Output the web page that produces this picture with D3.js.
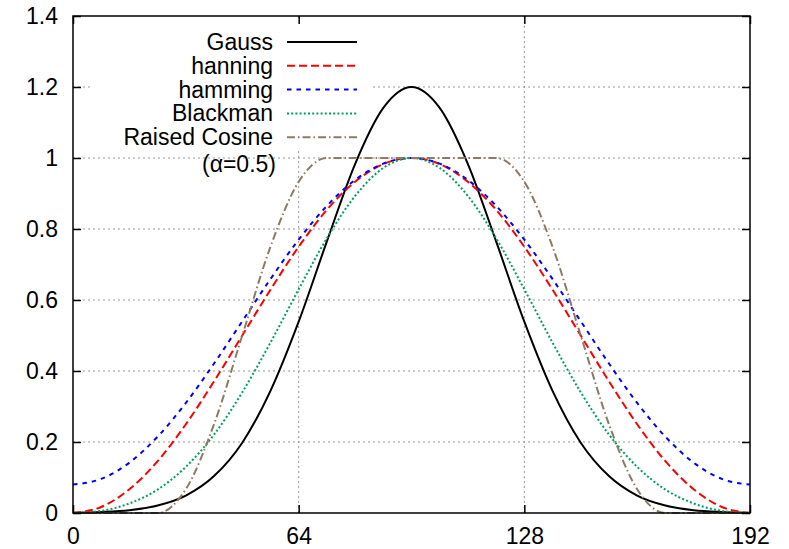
<!DOCTYPE html>
<html>
<head>
<meta charset="utf-8">
<script src="https://cdn.jsdelivr.net/npm/d3@7"></script>
<style>
  body { margin: 0; background: #fff; }
  svg { font-family: "Liberation Sans", Arial, sans-serif; }
</style>
</head>
<body>
<div id="chart"></div>
<script>
// sample positions (0..192, every 8)
const xs = [0, 8, 16, 24, 32, 40, 48, 56, 64, 72, 80, 88, 96, 104, 112, 120, 128, 136, 144, 152, 160, 168, 176, 184, 192];

const gauss   = [0.001, 0.003, 0.008, 0.021, 0.049, 0.104, 0.198, 0.344, 0.539, 0.765, 0.983, 1.141, 1.2,
                 1.141, 0.983, 0.765, 0.539, 0.344, 0.198, 0.104, 0.049, 0.021, 0.008, 0.003, 0.001];
const hanning = [0, 0.017, 0.067, 0.146, 0.25, 0.371, 0.5, 0.629, 0.75, 0.854, 0.933, 0.983, 1,
                 0.983, 0.933, 0.854, 0.75, 0.629, 0.5, 0.371, 0.25, 0.146, 0.067, 0.017, 0];
const hamming = [0.08, 0.096, 0.142, 0.215, 0.31, 0.421, 0.54, 0.659, 0.77, 0.865, 0.938, 0.984, 1,
                 0.984, 0.938, 0.865, 0.77, 0.659, 0.54, 0.421, 0.31, 0.215, 0.142, 0.096, 0.08];
const blackman = [0, 0.006, 0.027, 0.066, 0.13, 0.221, 0.34, 0.48, 0.63, 0.774, 0.893, 0.972, 1,
                  0.972, 0.893, 0.774, 0.63, 0.48, 0.34, 0.221, 0.13, 0.066, 0.027, 0.006, 0];
const raisedCos = [0, 0, 0, 0, 0.067, 0.25, 0.5, 0.75, 0.933, 1, 1, 1, 1,
                   1, 1, 1, 0.933, 0.75, 0.5, 0.25, 0.067, 0, 0, 0, 0];

const xTicks = [0, 64, 128, 192];
const yTicks = [0, 0.2, 0.4, 0.6, 0.8, 1, 1.2, 1.4];

const series = [
  { name: "Gauss",         values: gauss,     color: "#000000", dash: null },
  { name: "hanning",       values: hanning,   color: "#ff0000", dash: "8,4" },
  { name: "hamming",       values: hamming,   color: "#0000ff", dash: "4.5,5" },
  { name: "Blackman",      values: blackman,  color: "#00a060", dash: "2,2.2" },
  { name: "Raised Cosine", values: raisedCos, color: "#8c7b63", dash: "8,3,1.5,3" }
];

const W = 789, H = 549;
const margin = { top: 16, right: 39, bottom: 36, left: 73 };
const width = W - margin.left - margin.right;
const height = H - margin.top - margin.bottom;

const x = d3.scaleLinear().domain([0, 192]).range([0, width]);
const y = d3.scaleLinear().domain([0, 1.4]).range([height, 0]);

const svg = d3.select("#chart").append("svg")
  .attr("width", W)
  .attr("height", H);

const g = svg.append("g")
  .attr("transform", `translate(${margin.left},${margin.top})`);

// grid
g.append("g").selectAll("line")
  .data(yTicks.filter(v => v > 0 && v < 1.4))
  .join("line")
  .attr("x1", 0).attr("x2", width)
  .attr("y1", d => y(d)).attr("y2", d => y(d))
  .attr("stroke", "#999").attr("stroke-width", 1)
  .attr("stroke-dasharray", "2,3");

g.append("g").selectAll("line")
  .data(xTicks.filter(v => v > 0 && v < 192))
  .join("line")
  .attr("y1", 0).attr("y2", height)
  .attr("x1", d => x(d)).attr("x2", d => x(d))
  .attr("stroke", "#999").attr("stroke-width", 1)
  .attr("stroke-dasharray", "2,3");

// opaque key box
g.append("rect")
  .attr("x", 17).attr("y", 2)
  .attr("width", 280).attr("height", 132)
  .attr("fill", "#fff");

// curves
const line = d3.line()
  .x((d, i) => x(xs[i]))
  .y(d => y(d))
  .curve(d3.curveMonotoneX);

series.forEach(s => {
  g.append("path")
    .datum(s.values)
    .attr("fill", "none")
    .attr("stroke", s.color)
    .attr("stroke-width", 2)
    .attr("stroke-dasharray", s.dash)
    .attr("d", line);
});

// axes (ticks inward, mirrored)
const fontSize = "23px";
const styleAxis = sel => {
  sel.select(".domain").remove();
  sel.selectAll(".tick line").attr("stroke", "#000").attr("stroke-width", 1.5);
  sel.selectAll("text").attr("font-size", fontSize).attr("fill", "#000")
    .attr("font-family", "Liberation Sans, Arial, sans-serif");
};

g.append("g")
  .call(d3.axisLeft(y).tickValues(yTicks).tickSize(-8).tickPadding(15).tickFormat(d3.format("")))
  .call(styleAxis);

g.append("g")
  .attr("transform", `translate(0,${height})`)
  .call(d3.axisBottom(x).tickValues(xTicks).tickSize(-8).tickPadding(15))
  .call(styleAxis);

g.append("g")
  .call(d3.axisTop(x).tickValues(xTicks).tickSize(-8).tickFormat(""))
  .call(styleAxis);

g.append("g")
  .attr("transform", `translate(${width},0)`)
  .call(d3.axisRight(y).tickValues(yTicks).tickSize(-8).tickFormat(""))
  .call(styleAxis);

// frame
g.append("rect")
  .attr("width", width).attr("height", height)
  .attr("fill", "none").attr("stroke", "#000").attr("stroke-width", 1.5);

// legend
const key = g.append("g");
const rowY = i => 26 + i * 23.8;
series.forEach((s, i) => {
  key.append("text")
    .attr("x", 200).attr("y", rowY(i))
    .attr("dy", "0.35em")
    .attr("text-anchor", "end")
    .attr("font-size", fontSize)
    .text(s.name);
  key.append("line")
    .attr("x1", 214).attr("x2", 284)
    .attr("y1", rowY(i)).attr("y2", rowY(i))
    .attr("stroke", s.color)
    .attr("stroke-width", 2)
    .attr("stroke-dasharray", s.dash);
});
key.append("text")
  .attr("x", 203).attr("y", 148)
  .attr("dy", "0.35em")
  .attr("text-anchor", "end")
  .attr("font-size", fontSize)
  .text("(α=0.5)");
</script>
</body>
</html>
